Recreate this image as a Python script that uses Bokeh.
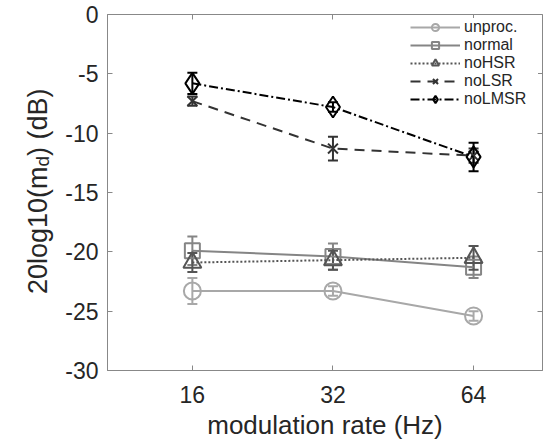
import math
from bokeh.plotting import figure
from bokeh.layouts import row
from bokeh.models import (Range1d, FixedTicker, LinearAxis, LogAxis, Whisker,
                          ColumnDataSource, Legend, LegendItem, Label, TeeHead)
from bokeh.embed import file_html
from bokeh.resources import INLINE

# ---- data ----
rates = [16, 32, 64]
unproc = [-23.3, -23.3, -25.4]
unproc_err = [1.1, 0.4, 0.4]
normal = [-19.9, -20.4, -21.3]
normal_err = [1.2, 1.1, 0.9]
nohsr = [-20.9, -20.7, -20.5]
nohsr_err = [0.8, 0.8, 1.0]
nolsr = [-7.3, -11.3, -11.9]
nolsr_err = [0.4, 1.0, 0.6]
nolmsr = [-5.8, -7.8, -12.0]
nolmsr_err = [0.9, 0.4, 1.2]
y_ticks = [0, -5, -10, -15, -20, -25, -30]
y_tick_labels = ["0", "-5", "-10", "-15", "-20", "-25", "-30"]
x_tick_labels = ["16", "32", "64"]
series_names = ["unproc.", "normal", "noHSR", "noLSR", "noLMSR"]

# ---- styles ----
FONT = "Liberation Sans"
TXT = "#262626"
FRAME = "#888888"
W, H = 546, 443
LW = 58                      # width of the y-label strip
B_L, B_R, B_T, B_B = 107 - LW, 4, 14, 73

p = figure(width=W - LW, height=H, x_axis_type="log",
           x_range=Range1d(10.53, 89.9), y_range=Range1d(-30, 0),
           output_backend="svg", toolbar_location=None,
           min_border_left=B_L, min_border_right=B_R,
           min_border_top=B_T, min_border_bottom=B_B)
p.grid.visible = False
p.outline_line_color = FRAME
p.outline_line_width = 1
p.background_fill_color = "white"

xa = p.xaxis[0]
xa.ticker = FixedTicker(ticks=rates)
xa.major_label_overrides = {r: l for r, l in zip(rates, x_tick_labels)}
xa.minor_tick_line_color = None
ya = p.yaxis[0]
ya.ticker = FixedTicker(ticks=y_ticks)
ya.major_label_overrides = {t: l for t, l in zip(y_ticks, y_tick_labels)}
ya.minor_tick_line_color = None
for ax in (xa, ya):
    ax.axis_line_color = FRAME
    ax.major_tick_line_color = FRAME
    ax.major_tick_in = 5
    ax.major_tick_out = 0
    ax.major_label_text_font = FONT
    ax.major_label_text_font_size = "23px"
    ax.major_label_text_color = TXT
    ax.axis_label_text_font = FONT
    ax.axis_label_text_font_size = "26px"
    ax.axis_label_text_font_style = "normal"
    ax.axis_label_text_color = TXT
xa.major_label_standoff = 15
xa.axis_label = "modulation rate (Hz)"
xa.axis_label_standoff = 4
ya.major_label_standoff = 9

# mirrored ticks (box on)
top = LogAxis(ticker=FixedTicker(ticks=rates),
              major_label_overrides={r: "" for r in rates},
              major_label_text_font_size="1px",
              major_tick_in=5, major_tick_out=0, major_tick_line_color=FRAME,
              axis_line_color=None, minor_tick_line_color=None, major_label_standoff=0)
right = LinearAxis(ticker=FixedTicker(ticks=y_ticks),
                   major_label_overrides={t: "" for t in y_ticks},
                   major_label_text_font_size="1px",
                   major_tick_in=5, major_tick_out=0, major_tick_line_color=FRAME,
                   axis_line_color=None, minor_tick_line_color=None, major_label_standoff=0)
p.add_layout(top, "above")
p.add_layout(right, "right")

series = [
    (unproc, unproc_err, "#a8a8a8", "solid", "circle", 17),
    (normal, normal_err, "#858585", "solid", "square", 15),
    (nohsr, nohsr_err, "#555555", "2 2", "triangle", 18),
    (nolsr, nolsr_err, "#333333", "10 7", "x", 14),
    (nolmsr, nolmsr_err, "#000000", "9 3 2 3", "diamond", 21),
]

items = []
for name, (vals, errs, col, dash, mk, sz) in zip(series_names, series):
    src = ColumnDataSource(dict(x=rates, y=vals,
                                lo=[v - e for v, e in zip(vals, errs)],
                                hi=[v + e for v, e in zip(vals, errs)]))
    wk = Whisker(source=src, base="x", lower="lo", upper="hi", dimension="height",
                 line_color=col, line_width=2,
                 upper_head=TeeHead(size=10, line_color=col, line_width=2),
                 lower_head=TeeHead(size=10, line_color=col, line_width=2))
    p.add_layout(wk)
    lr = p.line("x", "y", source=src, line_color=col, line_width=2, line_dash=dash)
    sr = p.scatter("x", "y", source=src, marker=mk, size=sz, fill_color=None,
                   line_color=col, line_width=2)
    items.append(LegendItem(label=name, renderers=[lr, sr]))

leg = Legend(items=items, location="top_right", glyph_width=50, glyph_height=18,
             label_height=13, label_width=74, spacing=0, padding=2, margin=4,
             label_standoff=4,
             label_text_font=FONT, label_text_font_size="16px",
             label_text_color=TXT, border_line_color=None,
             background_fill_color="white", background_fill_alpha=1.0)
p.add_layout(leg, "center")

# ---- y-axis label strip (label with subscript, built from pieces) ----
lf = figure(width=LW, height=H, x_range=Range1d(0, 1), y_range=Range1d(-30, 0),
            output_backend="svg", toolbar_location=None,
            x_axis_location=None, y_axis_location=None,
            min_border_left=0, min_border_right=0,
            min_border_top=B_T, min_border_bottom=B_B)
lf.grid.visible = False
lf.outline_line_color = None

f = 27.0
fs = 0.7 * f
w1 = 4.724 * f
w2 = 0.556 * fs
w3 = 2.5 * f
frame_h = H - B_T - B_B
per_px = 30.0 / frame_h
y0 = -14.9 - (w1 + w2 + w3) / 2 * per_px
xb = 37
lf.add_layout(Label(x=xb, y=y0, x_units="canvas", text="20log10(m", angle=math.pi / 2,
                    text_font=FONT, text_font_size=f"{f}px", text_color=TXT,
                    text_align="left", text_baseline="alphabetic"))
lf.add_layout(Label(x=xb + 0.2 * f, y=y0 + w1 * per_px, x_units="canvas", text="d",
                    angle=math.pi / 2, text_font=FONT, text_font_size=f"{fs:.1f}px",
                    text_color=TXT, text_align="left", text_baseline="alphabetic"))
lf.add_layout(Label(x=xb, y=y0 + (w1 + w2) * per_px, x_units="canvas", text=") (dB)",
                    angle=math.pi / 2, text_font=FONT, text_font_size=f"{f}px",
                    text_color=TXT, text_align="left", text_baseline="alphabetic"))

layout = row(lf, p, spacing=0)
open("out.html", "w").write(file_html(layout, INLINE))
